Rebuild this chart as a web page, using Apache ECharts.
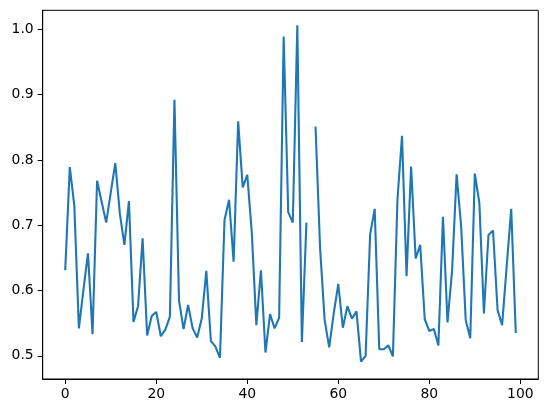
<!DOCTYPE html>
<html>
<head>
<meta charset="utf-8">
<script src="https://cdn.jsdelivr.net/npm/echarts@6/dist/echarts.min.js"></script>
<style>
  html, body { margin: 0; padding: 0; background: #fff; }
  #main { width: 547px; height: 413px; }
</style>
</head>
<body>
<div id="main"></div>
<script>
// values, index 0..99 (54 is missing -> gap)
var values = [
  0.631, 0.789, 0.730, 0.542, 0.601, 0.657, 0.533, 0.768, 0.736, 0.704,
  0.750, 0.795, 0.718, 0.670, 0.737, 0.552, 0.576, 0.680, 0.531, 0.561,
  0.567, 0.530, 0.540, 0.560, 0.892, 0.585, 0.541, 0.578, 0.542, 0.528,
  0.557, 0.630, 0.523, 0.514, 0.497, 0.708, 0.739, 0.644, 0.859, 0.758,
  0.777, 0.688, 0.547, 0.631, 0.505, 0.564, 0.542, 0.558, 0.989, 0.720,
  0.704, 1.006, 0.521, 0.704, null, 0.851, 0.665, 0.555, 0.513, 0.565,
  0.610, 0.543, 0.576, 0.557, 0.568, 0.491, 0.500, 0.686, 0.725, 0.510,
  0.510, 0.516, 0.499, 0.739, 0.837, 0.622, 0.790, 0.649, 0.670, 0.556,
  0.538, 0.541, 0.516, 0.713, 0.551, 0.630, 0.778, 0.698, 0.555, 0.527,
  0.779, 0.734, 0.565, 0.685, 0.692, 0.570, 0.547, 0.637, 0.725, 0.535
];
var xTicks = [0, 20, 40, 60, 80, 100];
var yTicks = [0.5, 0.6, 0.7, 0.8, 0.9, 1.0];

var font = 'DejaVu Sans';
var myChart = echarts.init(document.getElementById('main'), null, { renderer: 'canvas' });

var axisCommon = {
  axisLine: { show: true, onZero: false, lineStyle: { color: '#000', width: 1 } },
  splitLine: { show: false },
  axisTick: { show: true, inside: false, length: 5, lineStyle: { color: '#000', width: 1 } }
};

option = {
  animation: false,
  backgroundColor: '#fff',
  grid: {
    left: 42.7, right: 8.7, top: 10.3, bottom: 34,
    show: true, borderColor: '#000', borderWidth: 1
  },
  xAxis: Object.assign({}, axisCommon, {
    type: 'value',
    min: -4.95,
    max: 103.95,
    axisTick: Object.assign({}, axisCommon.axisTick, { customValues: xTicks }),
    axisLabel: {
      customValues: xTicks,
      margin: 8,
      color: '#000',
      fontFamily: font,
      fontSize: 13.9
    }
  }),
  yAxis: Object.assign({}, axisCommon, {
    type: 'value',
    min: 0.4645,
    max: 1.0291,
    axisTick: Object.assign({}, axisCommon.axisTick, { customValues: yTicks }),
    axisLabel: {
      customValues: yTicks,
      margin: 9,
      color: '#000',
      fontFamily: font,
      fontSize: 13.9,
      formatter: function (v) { return v.toFixed(1); }
    }
  }),
  series: [{
    type: 'line',
    data: values.map(function (v, i) { return [i, v]; }),
    showSymbol: false,
    connectNulls: false,
    lineStyle: { color: '#1f77b4', width: 2.1 },
    itemStyle: { color: '#1f77b4' }
  }]
};
myChart.setOption(option);
</script>
</body>
</html>
